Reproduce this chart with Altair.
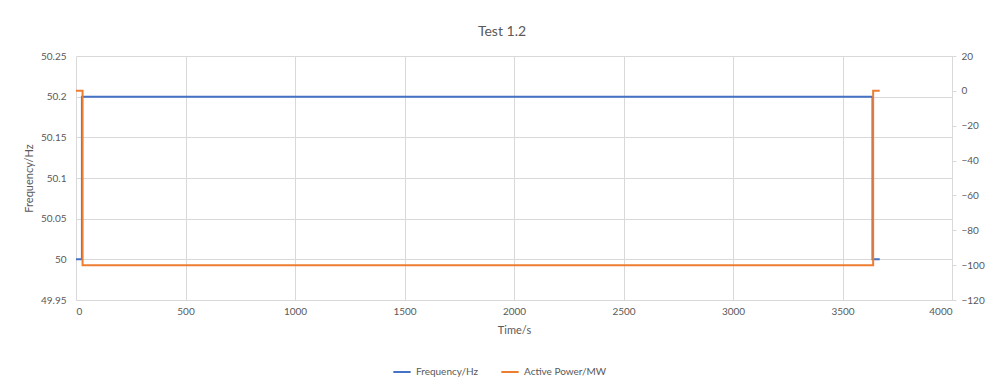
import altair as alt
import pandas as pd

# Step data
freq_time = [0, 27, 3637, 3670]
freq_value = [50.0, 50.2, 50.0, 50.0]
power_time = [0, 30, 3640, 3670]
power_value = [0, -100, 0, 0]

series_names = ["Frequency/Hz", "Active Power/MW"]
series_colors = ["#4472C4", "#ED7D31"]

df_f = pd.DataFrame({"t": freq_time, "v": freq_value, "s": series_names[0]})
df_p = pd.DataFrame({"t": power_time, "v": power_value, "s": series_names[1]})

FONT = "Lato"
GRAY = "#595959"
GRID = "#D9D9D9"

color = alt.Color(
    "s:N",
    scale=alt.Scale(domain=series_names, range=series_colors),
    legend=alt.Legend(
        title=None, orient="none", direction="horizontal",
        legendX=316, legendY=306, symbolType="stroke", symbolSize=300,
        symbolStrokeWidth=2, labelFontSize=10, labelColor=GRAY, labelFont=FONT,
        columnPadding=18,
    ),
)

x = alt.X(
    "t:Q",
    scale=alt.Scale(domain=[0, 4000], nice=False),
    axis=alt.Axis(
        values=list(range(0, 4001, 500)), format="d", title="Time/s", titleFontSize=11,
        titleColor=GRAY, titleFontWeight="normal", titlePadding=8,
        labelColor=GRAY, labelFontSize=10, labelPadding=6, ticks=False,
        domainColor=GRID, gridColor=GRID, grid=True, labelFont=FONT, titleFont=FONT,
    ),
)

freq = alt.Chart(df_f).mark_line(interpolate="step-after", strokeWidth=2).encode(
    x=x,
    y=alt.Y(
        "v:Q",
        scale=alt.Scale(domain=[49.95, 50.25], nice=False, zero=False),
        axis=alt.Axis(
            values=[49.95, 50.0, 50.05, 50.1, 50.15, 50.2, 50.25],
            format="~g", title="Frequency/Hz", titleFontSize=11, titleColor=GRAY,
            titleFontWeight="normal", titlePadding=6, labelColor=GRAY,
            labelFontSize=10, labelPadding=10, ticks=False, domain=False,
            gridColor=GRID, grid=True, labelFont=FONT, titleFont=FONT,
        ),
    ),
    color=color,
)

power = alt.Chart(df_p).mark_line(interpolate="step-after", strokeWidth=2).encode(
    x=x,
    y=alt.Y(
        "v:Q",
        scale=alt.Scale(domain=[-120, 20], nice=False, zero=False),
        axis=alt.Axis(
            orient="right", values=list(range(-120, 21, 20)), title=None,
            labelColor=GRAY, labelFontSize=10, labelPadding=5, ticks=True,
            tickSize=4, tickColor=GRID, domain=True, domainColor=GRID,
            grid=False, labelFont=FONT,
        ),
    ),
    color=color,
)

chart = (
    alt.layer(freq, power)
    .resolve_scale(y="independent")
    .properties(
        width=876, height=244,
        title=alt.TitleParams("Test 1.2", fontSize=14, color=GRAY, fontWeight="normal",
                              font=FONT, anchor="middle", dx=-12, offset=12),
        autosize=alt.AutoSizeParams(type="none"),
        padding={"left": 68, "top": 48, "right": 35, "bottom": 77},
    )
    .configure_view(stroke=None)
)

chart.save("out.html", embed_options={"renderer": "svg", "actions": False})
